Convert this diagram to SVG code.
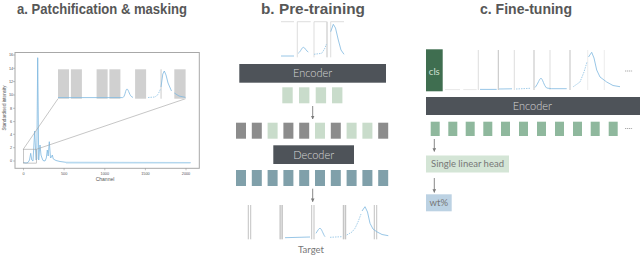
<svg xmlns="http://www.w3.org/2000/svg" width="640" height="256" viewBox="0 0 640 256">
<defs>
<style>
.title{font-family:"Liberation Sans",Arial,sans-serif;font-weight:bold;font-size:14px;fill:#575757;text-anchor:middle}
.lbl{font-family:Lato,"Noto Sans",sans-serif;fill:#777;text-anchor:middle}
.enc{fill:#4e5359}
.enct{font-family:Lato,"Noto Sans",sans-serif;font-size:11px;fill:#d6d6d6;text-anchor:middle;font-weight:300}
.ax{font-family:"Liberation Sans",Arial,sans-serif;fill:#555;text-anchor:middle}
.spec{fill:none;stroke:#7db8e0;stroke-width:0.8;stroke-linejoin:round}
.specd{fill:none;stroke:#8cc0e3;stroke-width:0.8;stroke-dasharray:1.5 1}
.vis{fill:#c9dccb}
.msk{fill:#8c8c8c}
.dec{fill:#80a0aa}
.ft{fill:#8fb89d}
.vl{stroke:#cfcfcf;stroke-width:0.7}
.vd{stroke:#a8a8a8;stroke-width:0.7}
.arr{stroke:#7a7a7a;stroke-width:0.9;fill:none}
.gp{fill:#d0d0d0}
</style>
<marker id="ah" viewBox="0 0 10 10" refX="9" refY="5" markerWidth="4" markerHeight="4" orient="auto">
<path d="M0,0 L10,5 L0,10 z" fill="#7a7a7a"/>
</marker>
</defs>
<rect width="640" height="256" fill="#fff"/>

<!-- Titles -->
<text class="title" x="102" y="14" textLength="170" lengthAdjust="spacingAndGlyphs">a. Patchification &amp; masking</text>
<text class="title" x="313" y="14" textLength="104" lengthAdjust="spacingAndGlyphs">b. Pre-training</text>
<text class="title" x="526" y="14" textLength="92" lengthAdjust="spacingAndGlyphs">c. Fine-tuning</text>

<!-- Panel a: chart -->
<g id="chart">
<rect x="15" y="52.5" width="184.3" height="115.8" fill="#fff" stroke="#a8a8a8" stroke-width="1"/>
<g stroke="#888" stroke-width="0.5">
<line x1="13" y1="55" x2="15" y2="55"/><line x1="13" y1="68.3" x2="15" y2="68.3"/><line x1="13" y1="81.6" x2="15" y2="81.6"/><line x1="13" y1="95" x2="15" y2="95"/><line x1="13" y1="108.3" x2="15" y2="108.3"/><line x1="13" y1="121.6" x2="15" y2="121.6"/><line x1="13" y1="134.3" x2="15" y2="134.3"/><line x1="13" y1="147.7" x2="15" y2="147.7"/><line x1="13" y1="161" x2="15" y2="161"/>
<line x1="23.5" y1="168.3" x2="23.5" y2="170.3"/><line x1="64.1" y1="168.3" x2="64.1" y2="170.3"/><line x1="104.8" y1="168.3" x2="104.8" y2="170.3"/><line x1="145.4" y1="168.3" x2="145.4" y2="170.3"/><line x1="186" y1="168.3" x2="186" y2="170.3"/>
</g>
<g class="ax" font-size="3.8">
<text x="11" y="56.3">16</text><text x="11" y="69.6">14</text><text x="11" y="82.9">12</text><text x="11" y="96.3">10</text><text x="11" y="109.6">8</text><text x="11" y="122.9">6</text><text x="11" y="135.6">4</text><text x="11" y="149">2</text><text x="11" y="162.3">0</text>
<text x="23.5" y="174.5">0</text><text x="64.1" y="174.5">500</text><text x="104.8" y="174.5">1000</text><text x="145.4" y="174.5">1500</text><text x="186" y="174.5">2000</text>
</g>
<text class="ax" font-size="5" x="105" y="180.5">Channel</text>
<text class="ax" font-size="4.6" transform="translate(5.5,108) rotate(-90)">Standardised intensity</text>
<path class="spec" stroke-width="0.9" d="M23.3,162.5 L26,163 L28,162.5 L29.5,160 L30.7,153.3 L31.8,160 L33,161 L34.7,131 L36,160 L36.8,159 L37.7,57.7 L38.7,160 L39.3,152 L40,145 L41,155 L42,158 L43,160.5 L45,161 L46.3,158 L47.3,150 L48.2,156 L49.3,141.7 L50.5,158 L51.5,157 L52.3,155 L53.3,159 L56,160.5 L60,161.5 L66,162.3 L190.5,162.5"/>
<line x1="66" y1="162.8" x2="190.5" y2="162.8" stroke="#bcdcf0" stroke-width="1.2"/>
<!-- zoom box and lines -->
<rect x="23.3" y="149.2" width="13.4" height="13.9" fill="none" stroke="#a0a0a0" stroke-width="0.6"/>
<line x1="23.3" y1="149.2" x2="58" y2="98.7" stroke="#a0a0a0" stroke-width="0.6"/>
<line x1="36.7" y1="149.2" x2="185.6" y2="98.7" stroke="#a0a0a0" stroke-width="0.6"/>
<!-- inset patches -->
<rect x="58" y="69.3" width="127.6" height="29.4" fill="#fff"/>
<rect class="gp" x="58" y="69.3" width="11" height="29.4"/>
<rect class="gp" x="70.9" y="69.3" width="11" height="29.4"/>
<rect class="gp" x="96.6" y="69.3" width="11" height="29.4"/>
<rect class="gp" x="109.4" y="69.3" width="11" height="29.4"/>
<rect class="gp" x="135.1" y="69.3" width="11" height="29.4"/>
<rect class="gp" x="174.3" y="69.3" width="11.3" height="29.4"/>
<rect x="160.2" y="69.3" width="1.8" height="29.4" fill="#e2e2e2"/>
<path class="spec" stroke="#9ccbe8" d="M58,97.6 L122.5,97.6 C125,97.6 125.5,89 127,89 C128.5,89 129.5,96.8 133,97.4"/>
<path class="specd" d="M148,97.5 L155,97 L158,94.5 L160.5,89"/>
<path class="spec" stroke="#9ccbe8" d="M161,87 L162.8,74 L164.3,71 L166,75 L168,83 L171.5,91"/>
<path class="spec" stroke="#9ccbe8" d="M174.3,93 L179,96 L185.5,97.4"/>
</g>

<!-- Panel b -->
<g id="b-input">
<g class="vl">
<line x1="281" y1="21.7" x2="294" y2="21.7"/><line x1="297.3" y1="21.7" x2="310.7" y2="21.7"/><line x1="314" y1="21.7" x2="326.7" y2="21.7"/><line x1="330.7" y1="21.7" x2="344" y2="21.7"/>
<line x1="297.3" y1="21.7" x2="297.3" y2="57.3"/><line x1="314" y1="21.7" x2="314" y2="57.3"/><line x1="330.7" y1="21.7" x2="330.7" y2="57.3"/>
</g>
<line class="vd" x1="327" y1="21.7" x2="327" y2="57.3"/>
<path class="spec" stroke="#9ccbe8" d="M281,56 L294,56"/>
<path class="spec" stroke="#9ccbe8" d="M298.3,53.3 C301,51 302,47.3 303.3,47.3 C305,47.3 306,51 308.3,52"/>
<path class="specd" d="M314,54.3 L321.7,53.3 L324.5,49 L326.5,44"/>
<path class="spec" stroke="#9ccbe8" d="M330.7,31.7 L333.3,24.3 L335.5,28 L338.3,40 L341,50 L344,54.3"/>
</g>
<g id="b-encoder">
<rect class="enc" x="239.3" y="64" width="146.7" height="18.7"/>
<text class="enct" x="312.6" y="77.2">Encoder</text>
</g>
<g id="b-visible-tokens">
<rect class="vis" x="282.3" y="87.3" width="10.4" height="16"/>
<rect class="vis" x="299" y="87.3" width="10.4" height="16"/>
<rect class="vis" x="315.7" y="87.3" width="10.4" height="16"/>
<rect class="vis" x="332" y="87.3" width="10.4" height="16"/>
</g>
<g id="b-mixed-tokens">
<rect class="msk" x="236" y="122.7" width="10" height="16"/>
<rect class="msk" x="251.8" y="122.7" width="10" height="16"/>
<rect class="vis" x="267.6" y="122.7" width="10" height="16"/>
<rect class="msk" x="283.4" y="122.7" width="10" height="16"/>
<rect class="msk" x="299.2" y="122.7" width="10" height="16"/>
<rect class="vis" x="315" y="122.7" width="10" height="16"/>
<rect class="msk" x="330.8" y="122.7" width="10" height="16"/>
<rect class="vis" x="346.6" y="122.7" width="10" height="16"/>
<rect class="vis" x="362.4" y="122.7" width="10" height="16"/>
<rect class="msk" x="378.2" y="122.7" width="10" height="16"/>
</g>
<g id="b-decoder">
<rect class="enc" x="273.3" y="145.3" width="80.7" height="18.7"/>
<text class="enct" x="313.6" y="158.5">Decoder</text>
</g>
<g id="b-decoded-tokens">
<rect class="dec" x="236" y="170" width="10" height="16"/>
<rect class="dec" x="251.8" y="170" width="10" height="16"/>
<rect class="dec" x="267.6" y="170" width="10" height="16"/>
<rect class="dec" x="283.4" y="170" width="10" height="16"/>
<rect class="dec" x="299.2" y="170" width="10" height="16"/>
<rect class="dec" x="315" y="170" width="10" height="16"/>
<rect class="dec" x="330.8" y="170" width="10" height="16"/>
<rect class="dec" x="346.6" y="170" width="10" height="16"/>
<rect class="dec" x="362.4" y="170" width="10" height="16"/>
<rect class="dec" x="378.2" y="170" width="10" height="16"/>
</g>
<g id="b-target">
<rect x="280" y="205" width="2.3" height="34.3" fill="#e3e3e3"/>
<rect x="343.3" y="205" width="2.4" height="34.3" fill="#e3e3e3"/>
<g class="vd" stroke="#bdbdbd">
<line x1="248.3" y1="205" x2="248.3" y2="239.3"/><line x1="250.7" y1="205" x2="250.7" y2="239.3"/>
<line x1="280" y1="205" x2="280" y2="239.3"/><line x1="282.3" y1="205" x2="282.3" y2="239.3"/>
<line x1="311.7" y1="205" x2="311.7" y2="239.3"/><line x1="314" y1="205" x2="314" y2="239.3"/>
<line x1="343.3" y1="205" x2="343.3" y2="239.3"/><line x1="345.7" y1="205" x2="345.7" y2="239.3"/>
<line x1="374.3" y1="205" x2="374.3" y2="239.3"/><line x1="376.7" y1="205" x2="376.7" y2="239.3"/>
</g>
<path class="spec" stroke="#9ccbe8" d="M285,237.7 L310,237"/>
<path class="spec" stroke="#9ccbe8" d="M316,233.3 C318,230 319,228.3 320,228.3 C321.5,228.3 323,234 325,236.7"/>
<path class="specd" d="M330,237.3 L341.7,236.7"/>
<path class="specd" d="M346.7,235 L352,232 L355,228.3 L358,222 L361,214"/>
<path class="spec" stroke="#9ccbe8" d="M362,211 L365,206.7 L367.5,212 L370,223.3 L373,229 L376.7,231.7 L382,234.5 L388.3,235.7"/>
<text class="lbl" font-size="9.5" x="311" y="253.3">Target</text>
</g>

<!-- Panel c -->
<g id="c-input">
<rect x="426" y="49.3" width="16.7" height="42" fill="#3f6e50"/>
<text x="434.3" y="74.5" font-family="Lato,'Noto Sans',sans-serif" font-size="9.5" fill="#cfe0d3" text-anchor="middle">cls</text>
<g class="vl">
<line x1="478.3" y1="50" x2="478.3" y2="90"/><line x1="514.3" y1="50" x2="514.3" y2="90"/><line x1="550" y1="50" x2="550" y2="90"/>
<line x1="587.7" y1="50" x2="587.7" y2="90" stroke="#e4e4e4"/><line x1="604.3" y1="50" x2="604.3" y2="90" stroke="#e4e4e4"/>
</g>
<g class="vd" stroke="#bdbdbd">
<line x1="498.3" y1="50" x2="498.3" y2="90"/><line x1="534" y1="50" x2="534" y2="90"/><line x1="570" y1="50" x2="570" y2="90"/>
</g>
<g stroke="#dedede" stroke-width="0.7">
<line x1="445" y1="89.6" x2="460" y2="89.6"/><line x1="463.3" y1="89.6" x2="476.7" y2="89.6"/>
</g>
<path class="spec" stroke="#9ccbe8" d="M480,89.4 L496.7,89.4"/>
<path class="spec" stroke="#9ccbe8" d="M499,89 L512,88.8"/>
<path class="specd" d="M516,89 L530,88.3"/>
<path class="spec" stroke="#9ccbe8" d="M535,87.5 C538,84 539.5,78.3 541,78.3 C542.5,78.3 544,86 546.7,88 L551.7,88.7 L566.7,88.7"/>
<path class="specd" d="M573.3,86.7 L580,82 L584,72 L587,62"/>
<path class="spec" stroke="#9ccbe8" d="M588.5,57 L591.7,52.3 L594,58 L596.7,70 L600,77 L606.7,82 L613,85.5 L620,86.7"/>
<line x1="625" y1="71" x2="632.7" y2="71" stroke="#888" stroke-width="0.7" stroke-dasharray="1.2 0.7"/>
</g>
<g id="c-encoder">
<rect class="enc" x="426" y="97" width="214" height="18"/>
<text class="enct" x="532.3" y="109.8">Encoder</text>
</g>
<g id="c-tokens">
<rect class="ft" x="430.7" y="121.7" width="9" height="14.3"/>
<rect class="ft" x="448.3" y="121.7" width="9" height="14.3"/>
<rect class="ft" x="465.7" y="121.7" width="9" height="14.3"/>
<rect class="ft" x="483.3" y="121.7" width="9" height="14.3"/>
<rect class="ft" x="501" y="121.7" width="9" height="14.3"/>
<rect class="ft" x="519" y="121.7" width="9" height="14.3"/>
<rect class="ft" x="537" y="121.7" width="9" height="14.3"/>
<rect class="ft" x="555" y="121.7" width="9" height="14.3"/>
<rect class="ft" x="573" y="121.7" width="9" height="14.3"/>
<rect class="ft" x="590.7" y="121.7" width="9" height="14.3"/>
<rect class="ft" x="608.7" y="121.7" width="9" height="14.3"/>
<line x1="625" y1="128.5" x2="632.7" y2="128.5" stroke="#888" stroke-width="0.7" stroke-dasharray="1.2 0.7"/>
</g>
<g id="c-head">
<rect x="426" y="155.5" width="83" height="17" fill="#d4e5d6"/>
<text class="lbl" font-size="9.5" x="467.5" y="167.3" fill="#7a7a7a">Single linear head</text>
</g>
<g id="c-output">
<rect x="426" y="194.3" width="25.7" height="17" fill="#bcd2e3"/>
<text class="lbl" font-size="9.5" x="438.8" y="206">wt%</text>
</g>

<!-- Connectors -->
<g id="connectors">
<line class="arr" x1="312.7" y1="106" x2="312.7" y2="119" marker-end="url(#ah)"/>
<line class="arr" x1="312.7" y1="188.7" x2="312.7" y2="201.7" marker-end="url(#ah)"/>
<line class="arr" x1="434.3" y1="139" x2="434.3" y2="151.5" marker-end="url(#ah)"/>
<line class="arr" x1="434.3" y1="178" x2="434.3" y2="192.5" marker-end="url(#ah)"/>
</g>
</svg>
